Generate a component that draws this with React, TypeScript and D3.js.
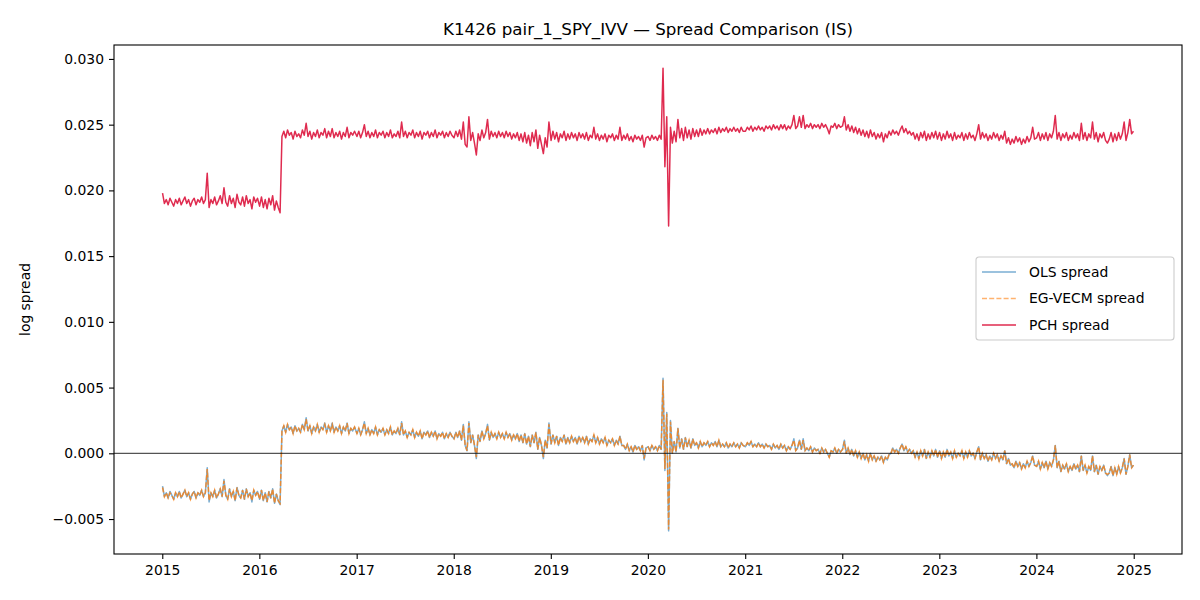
import React, { useEffect, useRef } from "react";
import * as d3 from "d3";

// Chart text
const chartTitle = "K1426 pair_1_SPY_IVV — Spread Comparison (IS)";
const yLabel = "log spread";
const seriesNames = ["OLS spread", "EG-VECM spread", "PCH spread"];

// Weekly observations starting 2 Jan of each year (2024 closes on 31 Dec).
// Values are in basis points of log spread.
const BP = 1e-4;
const years = [2015, 2016, 2017, 2018, 2019, 2020, 2021, 2022, 2023, 2024];
const xTickYears = [2015, 2016, 2017, 2018, 2019, 2020, 2021, 2022, 2023, 2024, 2025];
const yTicks = [-0.005, 0, 0.005, 0.01, 0.015, 0.02, 0.025, 0.03];

// PCH spread
const pch2015 = [
  198, 190, 193, 189, 194, 191, 188, 193, 190, 194, 189, 192, 195,
  190, 193, 188, 192, 194, 189, 193, 191, 195, 190, 193, 213, 187,
  193, 190, 195, 189, 192, 196, 190, 202, 191, 188, 196, 190, 194,
  187, 197, 191, 189, 195, 188, 196, 190, 193, 186, 195, 191, 194,
];
const pch2016 = [
  188, 195, 187, 193, 186, 194, 189, 196, 185, 192, 187, 183, 241,
  245, 240, 246, 242, 244, 239, 245, 241, 243, 240, 246, 242, 251,
  241, 245, 239, 244, 241, 246, 240, 244, 242, 247, 240, 245, 241,
  247, 240, 244, 241, 245, 239, 244, 241, 248, 240, 244, 242, 245,
];
const pch2017 = [
  241, 245, 240, 244, 250, 241, 245, 240, 244, 241, 246, 240, 244,
  242, 245, 240, 244, 241, 246, 240, 243, 241, 245, 240, 252, 241,
  245, 240, 244, 242, 246, 240, 244, 241, 245, 239, 244, 242, 245,
  240, 244, 241, 246, 240, 244, 242, 245, 240, 244, 241, 245, 242,
];
const pch2018 = [
  240, 245, 241, 246, 239, 252, 235, 233, 256, 238, 244, 236, 227,
  243, 238, 246, 240, 244, 254, 239, 245, 241, 244, 240, 245, 241,
  244, 240, 245, 241, 244, 239, 243, 240, 244, 238, 243, 237, 244,
  236, 242, 234, 244, 237, 246, 232, 242, 235, 228, 240, 233, 252,
];
const pch2019 = [
  238, 245, 239, 244, 237, 243, 240, 245, 238, 243, 239, 244, 240,
  243, 238, 244, 240, 243, 239, 244, 238, 242, 240, 248, 239, 243,
  238, 242, 239, 243, 237, 242, 240, 243, 238, 242, 239, 248, 238,
  242, 239, 243, 238, 241, 237, 242, 239, 241, 238, 242, 233, 240,
];
const pch2020 = [
  241, 238, 242, 239, 241, 238, 242, 239, 293, 218, 256, 173, 248,
  236, 245, 237, 254, 240, 247, 238, 248, 240, 246, 239, 247, 241,
  246, 241, 247, 242, 246, 243, 247, 243, 246, 244, 247, 243, 248,
  244, 247, 245, 248, 244, 247, 245, 248, 245, 247, 244, 248, 245,
];
const pch2021 = [
  245, 248, 246, 249, 245, 248, 246, 249, 246, 248, 245, 249, 247,
  249, 246, 250, 247, 249, 246, 250, 247, 250, 246, 249, 247, 250,
  257, 247, 249, 256, 248, 257, 247, 250, 248, 251, 247, 250, 248,
  250, 247, 251, 248, 250, 247, 243, 249, 248, 251, 247, 250, 248,
];
const pch2022 = [
  249, 256, 246, 250, 245, 249, 244, 248, 243, 247, 242, 246, 241,
  245, 240, 246, 241, 244, 239, 243, 240, 244, 237, 243, 240, 245,
  242, 246, 243, 245, 242, 246, 249, 244, 247, 243, 245, 242, 244,
  239, 243, 238, 244, 240, 245, 238, 243, 239, 244, 240, 245, 239,
];
const pch2023 = [
  244, 238, 243, 239, 245, 240, 243, 238, 244, 239, 242, 240, 244,
  238, 243, 239, 244, 240, 242, 238, 243, 250, 239, 244, 240, 243,
  238, 242, 239, 244, 240, 243, 238, 242, 239, 245, 236, 240, 235,
  239, 236, 241, 237, 240, 235, 239, 236, 241, 237, 240, 248, 239,
];
const pch2024 = [
  240, 244, 238, 243, 239, 244, 238, 243, 240, 245, 257, 239, 244,
  238, 243, 240, 244, 238, 242, 239, 244, 240, 243, 238, 251, 239,
  244, 238, 243, 240, 252, 239, 244, 237, 243, 240, 244, 238, 236,
  239, 244, 237, 243, 238, 244, 239, 243, 252, 238, 244, 254, 243, 245,
];

// OLS spread
const ols2015 = [
  -25, -33, -30, -34, -29, -32, -35, -30, -33, -29, -34, -31, -28,
  -33, -30, -35, -31, -29, -34, -30, -32, -28, -33, -30, -11, -37,
  -30, -33, -28, -34, -31, -27, -33, -20, -32, -35, -27, -33, -29,
  -36, -26, -32, -34, -28, -35, -27, -33, -30, -37, -28, -32, -29,
];
const ols2016 = [
  -35, -28, -36, -30, -37, -29, -34, -27, -38, -31, -36, -39, 17,
  21, 16, 22, 18, 20, 15, 21, 17, 19, 16, 22, 18, 27,
  17, 21, 15, 20, 17, 22, 16, 20, 18, 23, 16, 21, 17,
  23, 16, 20, 17, 21, 15, 20, 17, 23, 15, 19, 17, 20,
];
const ols2017 = [
  15, 19, 14, 18, 24, 15, 19, 14, 18, 15, 20, 14, 18,
  16, 19, 14, 18, 15, 20, 14, 17, 15, 19, 14, 24, 14,
  17, 12, 16, 14, 18, 12, 16, 13, 17, 11, 16, 14, 17,
  12, 16, 13, 17, 11, 15, 13, 16, 11, 15, 12, 16, 13,
];
const ols2018 = [
  11, 16, 12, 17, 10, 22, 6, 2, 24, 8, 14, 6, -4,
  14, 9, 17, 11, 15, 22, 10, 16, 12, 15, 11, 16, 12,
  15, 11, 16, 12, 15, 10, 14, 11, 15, 9, 14, 8, 15,
  7, 13, 5, 14, 8, 16, 3, 12, 6, -4, 10, 4, 23,
];
const ols2019 = [
  7, 14, 8, 13, 6, 12, 9, 14, 7, 12, 8, 13, 9,
  12, 7, 13, 9, 12, 8, 13, 7, 11, 9, 14, 8, 12,
  7, 11, 8, 12, 6, 10, 8, 11, 6, 10, 7, 13, 6,
  6, 3, 7, 2, 5, 1, 6, 3, 5, 2, 6, -5, 4,
];
const ols2020 = [
  5, 2, 6, 3, 5, 2, 6, 3, 57, -13, 31, -59, 25,
  0, 9, 1, 19, 4, 11, 3, 12, 5, 10, 4, 11, 6,
  8, 4, 9, 5, 8, 6, 9, 5, 8, 6, 9, 5, 10,
  5, 7, 5, 8, 4, 7, 5, 8, 5, 7, 4, 8, 6,
];
const ols2021 = [
  5, 8, 6, 9, 5, 7, 5, 8, 5, 7, 4, 7, 5,
  6, 3, 7, 4, 6, 3, 7, 4, 6, 2, 5, 3, 6,
  11, 2, 4, 10, 3, 11, 2, 4, 2, 5, 1, 4, 2,
  3, 0, 4, 1, 3, 0, -3, 2, 1, 4, 0, 3, 1,
];
const ols2022 = [
  3, 10, 0, 4, -1, 3, -2, 2, -3, 1, -4, 0, -5,
  -1, -6, 0, -5, -2, -6, -3, -5, -2, -7, -3, -5, -1,
  0, 4, 1, 3, 0, 4, 7, 2, 5, 1, 3, 0, 2,
  -3, 1, -4, 2, -2, 3, -4, 1, -3, 2, -2, 3, -3,
];
const ols2023 = [
  2, -4, 1, -3, 3, -2, 1, -4, 2, -3, 0, -2, 2,
  -4, 1, -3, 2, -2, 0, -4, 1, 5, -5, 0, -4, -1,
  -6, -2, -5, 0, -4, -1, -6, -2, -5, 2, -8, -4, -9,
  -8, -11, -6, -10, -7, -12, -8, -11, -6, -10, -7, -2, -9,
];
const ols2024 = [
  -10, -6, -12, -7, -11, -6, -12, -7, -10, -5, 6, -11, -6,
  -14, -9, -12, -8, -14, -10, -13, -8, -12, -9, -14, -2, -13,
  -9, -15, -10, -13, -2, -14, -9, -16, -10, -13, -9, -15, -17,
  -15, -10, -17, -11, -16, -10, -15, -11, -4, -16, -10, -1, -11, -9,
];

// EG-VECM spread
const eg2015 = [
  -26, -33, -30, -34, -30, -32, -35, -30, -33, -29, -34, -31, -28,
  -33, -30, -35, -31, -29, -34, -30, -32, -28, -33, -30, -12, -36,
  -30, -33, -28, -34, -31, -27, -33, -21, -32, -35, -27, -33, -29,
  -36, -26, -32, -34, -28, -35, -27, -33, -30, -36, -28, -32, -29,
];
const eg2016 = [
  -35, -28, -36, -30, -37, -29, -34, -27, -38, -31, -36, -38, 17,
  21, 16, 22, 18, 20, 15, 21, 17, 19, 16, 22, 18, 26,
  17, 21, 15, 20, 17, 22, 16, 20, 18, 22, 16, 21, 17,
  22, 16, 20, 17, 21, 15, 20, 17, 23, 15, 19, 17, 20,
];
const eg2017 = [
  15, 19, 14, 18, 23, 15, 19, 14, 18, 15, 20, 14, 18,
  16, 19, 14, 18, 15, 20, 14, 17, 15, 19, 14, 23, 14,
  17, 12, 16, 14, 18, 12, 16, 13, 17, 11, 16, 14, 17,
  12, 16, 13, 17, 11, 15, 13, 16, 11, 15, 12, 16, 13,
];
const eg2018 = [
  11, 16, 12, 17, 10, 21, 6, 2, 23, 8, 14, 6, -3,
  14, 9, 17, 11, 15, 21, 10, 16, 12, 15, 11, 16, 12,
  15, 11, 16, 12, 15, 10, 14, 11, 15, 9, 14, 8, 15,
  7, 13, 5, 14, 8, 16, 3, 12, 6, -3, 10, 4, 22,
];
const eg2019 = [
  7, 14, 8, 13, 6, 12, 9, 14, 7, 12, 8, 13, 9,
  12, 7, 13, 9, 12, 8, 13, 7, 11, 9, 14, 8, 12,
  7, 11, 8, 12, 6, 10, 8, 11, 6, 10, 7, 13, 6,
  6, 3, 7, 2, 5, 1, 6, 3, 5, 2, 6, -4, 4,
];
const eg2020 = [
  5, 2, 6, 3, 5, 2, 6, 3, 56, -12, 30, -58, 24,
  0, 9, 1, 19, 4, 11, 3, 12, 5, 10, 4, 11, 6,
  8, 4, 9, 5, 8, 6, 9, 5, 8, 6, 9, 5, 10,
  5, 7, 5, 8, 4, 7, 5, 8, 5, 7, 4, 8, 6,
];
const eg2021 = [
  5, 8, 6, 9, 5, 7, 5, 8, 5, 7, 4, 7, 5,
  6, 3, 7, 4, 6, 3, 7, 4, 6, 2, 5, 3, 6,
  10, 2, 4, 10, 3, 10, 2, 4, 2, 5, 1, 4, 2,
  3, 0, 4, 1, 3, 0, -3, 2, 1, 4, 0, 3, 1,
];
const eg2022 = [
  3, 9, 0, 4, -1, 3, -2, 2, -3, 1, -4, 0, -5,
  -1, -6, 0, -5, -2, -6, -3, -5, -2, -7, -3, -5, -1,
  0, 4, 1, 3, 0, 4, 7, 2, 5, 1, 3, 0, 2,
  -3, 1, -4, 2, -2, 3, -4, 1, -3, 2, -2, 3, -3,
];
const eg2023 = [
  2, -4, 1, -3, 3, -2, 1, -4, 2, -3, 0, -2, 2,
  -4, 1, -3, 2, -2, 0, -4, 1, 5, -5, 0, -4, -1,
  -6, -2, -5, 0, -4, -1, -6, -2, -5, 2, -8, -4, -9,
  -8, -11, -6, -10, -7, -12, -8, -11, -6, -10, -7, -2, -9,
];
const eg2024 = [
  -10, -6, -12, -7, -11, -6, -12, -7, -10, -5, 6, -11, -6,
  -14, -9, -12, -8, -14, -10, -13, -8, -12, -9, -14, -2, -13,
  -9, -15, -10, -13, -2, -14, -9, -16, -10, -13, -9, -15, -16,
  -15, -10, -17, -11, -16, -10, -15, -11, -4, -16, -10, -1, -11, -9,
];

const olsByYear = [ols2015, ols2016, ols2017, ols2018, ols2019, ols2020, ols2021, ols2022, ols2023, ols2024];
const egByYear = [eg2015, eg2016, eg2017, eg2018, eg2019, eg2020, eg2021, eg2022, eg2023, eg2024];
const pchByYear = [pch2015, pch2016, pch2017, pch2018, pch2019, pch2020, pch2021, pch2022, pch2023, pch2024];

type Point = { date: Date; value: number };

function toPoints(byYear: number[][]): Point[] {
  return byYear.flatMap((vals, k) =>
    vals.map((v, i) => ({ date: new Date(years[k], 0, 2 + 7 * i), value: v * BP }))
  );
}

export default function App() {
  const svgRef = useRef<SVGSVGElement>(null);

  useEffect(() => {
    document.body.style.margin = "0";
    const W = 1200;
    const H = 600;
    const m = { left: 114, right: 1182, top: 45, bottom: 554 };
    const font = "'DejaVu Sans', sans-serif";

    const svg = d3.select(svgRef.current);
    svg.selectAll("*").remove();
    svg.attr("width", W).attr("height", H).style("font-family", font);

    const ols = toPoints(olsByYear);
    const eg = toPoints(egByYear);
    const pch = toPoints(pchByYear);
    const all = [...ols, ...eg, ...pch];

    // 5% padding on both sides of the data
    const [d0, d1] = d3.extent(all, (d) => d.date) as [Date, Date];
    const dSpan = +d1 - +d0;
    const x = d3.scaleTime()
      .domain([new Date(+d0 - dSpan * 0.05), new Date(+d1 + dSpan * 0.05)])
      .range([m.left, m.right]);

    const [v0, v1] = d3.extent(all, (d) => d.value) as [number, number];
    const vSpan = v1 - v0;
    const y = d3.scaleLinear()
      .domain([v0 - vSpan * 0.05, v1 + vSpan * 0.05])
      .range([m.bottom, m.top]);

    const line = d3.line<Point>().x((d) => x(d.date)).y((d) => y(d.value));

    // series
    svg.append("path").datum(ols)
      .attr("d", line).attr("fill", "none")
      .attr("stroke", "#1f77b4").attr("stroke-opacity", 0.6)
      .attr("stroke-width", 1.5).attr("stroke-linejoin", "round");
    svg.append("path").datum(eg)
      .attr("d", line).attr("fill", "none")
      .attr("stroke", "#ff7f0e").attr("stroke-opacity", 0.8)
      .attr("stroke-width", 1.5).attr("stroke-dasharray", "5,2.2");
    svg.append("path").datum(pch)
      .attr("d", line).attr("fill", "none")
      .attr("stroke", "#dc143c").attr("stroke-opacity", 0.9)
      .attr("stroke-width", 1.5).attr("stroke-linejoin", "round");

    // zero reference line
    svg.append("line")
      .attr("x1", m.left).attr("x2", m.right)
      .attr("y1", y(0)).attr("y2", y(0))
      .attr("stroke", "#000").attr("stroke-width", 0.85);

    // axes
    const xAxis = d3.axisBottom(x)
      .tickValues(xTickYears.map((yr) => new Date(yr, 0, 1)))
      .tickFormat((d) => d3.timeFormat("%Y")(d as Date))
      .tickSize(5).tickSizeOuter(0).tickPadding(6);
    const gx = svg.append("g").attr("transform", `translate(0,${m.bottom})`).call(xAxis);

    const yAxis = d3.axisLeft(y)
      .tickValues(yTicks)
      .tickFormat((d) => d3.format(".3f")(d as number))
      .tickSize(5).tickSizeOuter(0).tickPadding(5);
    const gy = svg.append("g").attr("transform", `translate(${m.left},0)`).call(yAxis);

    [gx, gy].forEach((g) => {
      g.select(".domain").remove();
      g.selectAll("line").attr("stroke", "#000").attr("stroke-width", 1.1);
      g.selectAll("text").attr("fill", "#000").style("font-size", "13.9px").style("font-family", font);
    });

    // frame
    svg.append("rect")
      .attr("x", m.left).attr("y", m.top)
      .attr("width", m.right - m.left).attr("height", m.bottom - m.top)
      .attr("fill", "none").attr("stroke", "#000").attr("stroke-width", 1.1);

    // title and axis label
    svg.append("text")
      .attr("x", (m.left + m.right) / 2).attr("y", 35)
      .attr("text-anchor", "middle").style("font-size", "16.7px")
      .text(chartTitle);
    svg.append("text")
      .attr("transform", `translate(30,${(m.top + m.bottom) / 2}) rotate(-90)`)
      .attr("text-anchor", "middle").style("font-size", "13.9px")
      .text(yLabel);

    // legend
    const lg = svg.append("g").attr("transform", "translate(976,257)");
    lg.append("rect")
      .attr("width", 198).attr("height", 83).attr("rx", 3)
      .attr("fill", "#fff").attr("fill-opacity", 0.8)
      .attr("stroke", "#cccccc").attr("stroke-width", 1.1);
    const legendStyles = [
      { color: "#1f77b4", opacity: 0.6, dash: null },
      { color: "#ff7f0e", opacity: 0.6, dash: "5,2.2" },
      { color: "#dc143c", opacity: 0.9, dash: null },
    ];
    seriesNames.forEach((name, i) => {
      const cy = 15 + i * 26.5;
      const s = legendStyles[i];
      lg.append("line")
        .attr("x1", 6).attr("x2", 40).attr("y1", cy).attr("y2", cy)
        .attr("stroke", s.color).attr("stroke-opacity", s.opacity)
        .attr("stroke-width", 1.4).attr("stroke-dasharray", s.dash);
      lg.append("text")
        .attr("x", 53).attr("y", cy).attr("dy", "0.35em")
        .style("font-size", "13.9px")
        .text(name);
    });
  }, []);

  return <svg ref={svgRef} style={{ display: "block", background: "#fff" }}></svg>;
}
